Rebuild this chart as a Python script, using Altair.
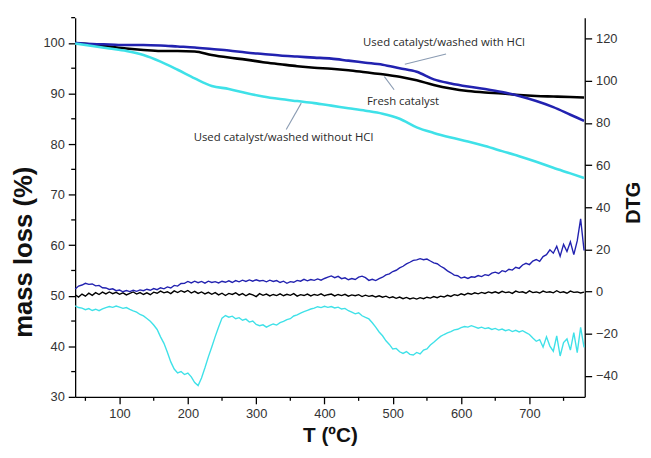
import altair as alt
import pandas as pd

SERIES = ["Fresh catalyst", "Used catalyst/washed with HCl", "Used catalyst/washed without HCl"]
COLORS = ["#000000", "#2222b0", "#3fe1e8"]

# ---- mass loss curves (left axis, %) ----
T_MASS = [35, 60, 85, 110, 135, 160, 185, 210, 235, 260, 285, 310, 335, 360, 385,
          410, 435, 460, 485, 510, 535, 560, 585, 610, 635, 660, 685, 710, 735, 760, 780]
FRESH_MASS = [100.0, 99.7, 99.3, 98.9, 98.6, 98.4, 98.4, 98.3, 97.6, 97.1, 96.7, 96.2, 95.8, 95.4, 95.1,
              94.9, 94.6, 94.2, 93.8, 93.3, 92.6, 91.7, 91.0, 90.5, 90.2, 90.0, 89.7, 89.5, 89.4, 89.3, 89.2]
HCL_MASS = [100.0, 99.8, 99.7, 99.6, 99.6, 99.5, 99.3, 99.1, 98.8, 98.5, 98.1, 97.8, 97.5, 97.3, 97.1,
            96.9, 96.5, 96.1, 95.7, 95.0, 94.3, 92.8, 92.0, 91.4, 90.9, 90.3, 89.5, 88.5, 87.3, 85.8, 84.6]
NOHCL_MASS = [99.9, 99.4, 98.9, 98.4, 97.6, 96.3, 94.7, 93.0, 91.5, 90.9, 90.1, 89.4, 88.9, 88.5, 88.1,
              87.6, 87.1, 86.6, 86.0, 85.0, 83.3, 82.2, 81.3, 80.5, 79.6, 78.6, 77.6, 76.5, 75.3, 74.2, 73.3]

# ---- DTG curves (right axis), T = 35..780 every 5 ----
T_DTG = list(range(35, 781, 5))
FRESH_DTG = [
    -1.5, -2.6, -1.2, -2.2, -0.8, -1.8, -0.5, -1.4, -0.3, -1.1,
    -0.2, -1.0, -0.4, -1.3, -0.6, -1.6, -0.9, -0.2, -1.2, -0.5,
    -1.4, -0.6, -1.5, -0.3, -0.8, 0.2, -0.6, -0.1, -1.0, 0.3,
    -0.5, 0.4, -0.3, 0.5, -0.7, 0.1, -0.9, -0.2, -1.1, -0.4,
    -1.3, -0.5, -1.6, -0.8, -1.9, -0.9, -1.4, -0.6, -1.7, -1.0,
    -2.0, -1.1, -1.6, -2.4, -1.0, -1.8, -1.2, -2.1, -1.4, -1.9,
    -1.1, -2.0, -1.3, -1.8, -1.0, -2.2, -1.5, -1.9, -1.2, -2.1,
    -1.4, -1.8, -1.1, -2.0, -1.5, -1.2, -2.1, -1.4, -1.9, -1.3,
    -2.2, -1.6, -2.0, -1.5, -2.4, -1.7, -2.3, -1.9, -2.6, -2.0,
    -2.7, -2.2, -3.0, -2.5, -3.2, -2.6, -3.4, -2.8, -3.5, -3.0,
    -3.6, -2.9, -3.4, -2.7, -3.1, -2.4, -2.9, -2.2, -2.6, -1.8,
    -2.3, -1.5, -1.9, -1.1, -1.6, -0.8, -1.3, -0.6, -1.1, -0.4,
    -0.9, -0.2, -0.7, -0.1, -0.8, 0.1, -0.5, -0.2, -0.9, 0.2,
    -0.4, -0.1, -0.8, 0.3, -0.5, -0.2, -0.7, 0.2, -0.4, -0.1,
    -0.6, 0.4, -0.5, -0.1, -0.8, 0.2, -0.4, -0.2, -0.7, -0.3,
]
HCL_DTG = [
    1.2, 2.6, 3.1, 3.9, 3.4, 3.6, 2.7, 2.9, 1.8, 1.7,
    1.0, 1.3, 0.4, 0.7, -0.1, 0.5, 0.0, 0.6, 0.1, 0.8,
    0.4, 1.1, 0.6, 1.4, 0.9, 1.8, 1.3, 2.2, 1.7, 2.9,
    2.6, 3.8, 3.9, 4.8, 4.1, 4.9, 4.2, 4.8, 4.0, 4.9,
    4.3, 4.7, 4.1, 4.9, 4.4, 5.1, 4.3, 5.2, 4.6, 5.4,
    4.8, 5.5, 4.9, 5.6, 5.0, 5.3, 4.6, 5.4, 4.8, 5.2,
    4.3, 4.9, 3.9, 4.7, 4.4, 5.3, 4.9, 5.8, 5.1, 5.7,
    5.3, 6.0, 5.4, 6.2, 6.8, 7.4, 6.6, 7.2, 6.1, 6.5,
    5.6, 6.2, 5.7, 6.8, 7.3, 6.6, 5.3, 5.8, 5.2, 6.1,
    6.8, 7.9, 8.4, 9.5, 10.1, 11.2, 12.0, 13.1, 13.9, 14.8,
    15.0, 15.6, 15.1, 15.4, 14.5, 13.6, 13.2, 12.0, 11.1, 9.8,
    8.9, 7.8, 7.5, 6.4, 6.9, 6.2, 7.0, 6.8, 7.6, 7.1,
    8.0, 7.6, 8.7, 9.2, 8.6, 9.9, 9.4, 10.6, 10.2, 11.5,
    11.0, 12.6, 13.4, 12.8, 14.5, 15.2, 14.3, 16.6, 17.5, 19.8,
    18.2, 21.5, 16.8, 22.4, 19.0, 23.6, 17.5, 24.0, 34.5, 19.5,
]
NOHCL_DTG = [
    -6.8, -7.6, -7.9, -8.6, -8.1, -9.0, -8.4, -9.1, -8.2, -7.6,
    -7.1, -7.5, -6.9, -7.4, -8.0, -7.6, -8.5, -9.2, -9.8, -10.9,
    -11.6, -12.8, -14.1, -15.9, -18.0, -21.5, -24.6, -28.8, -33.4, -36.8,
    -38.6, -38.0, -39.4, -38.7, -40.5, -43.2, -44.6, -41.0, -36.2, -31.0,
    -26.3, -21.4, -16.8, -12.6, -11.4, -12.2, -11.7, -12.9, -12.4, -13.6,
    -13.1, -14.5, -14.0, -15.6, -16.2, -15.8, -16.9, -16.1, -15.4, -15.9,
    -14.8, -14.2, -13.3, -12.9, -11.6, -11.1, -10.2, -9.5, -8.9, -8.3,
    -7.9, -7.2, -7.6, -7.0, -7.5, -7.1, -7.8, -7.4, -8.3, -8.0,
    -9.1, -9.8, -10.6, -10.1, -11.5, -12.3, -13.0, -14.8, -16.9, -19.2,
    -21.0, -23.4, -25.1, -27.3, -27.0, -28.6, -29.4, -28.5, -29.8, -30.1,
    -28.9, -29.6, -27.8, -27.2, -25.4, -24.1, -22.6, -21.3, -20.4, -19.6,
    -19.0, -18.2, -17.9, -17.1, -16.6, -16.9, -16.2, -16.8, -17.4, -16.9,
    -17.6, -17.2, -18.0, -17.5, -18.3, -17.8, -18.6, -18.1, -19.0, -18.4,
    -19.2, -18.6, -19.5, -20.4, -22.1, -23.6, -22.8, -26.4, -21.5, -25.9,
    -28.3, -21.0, -30.6, -24.2, -22.5, -27.8, -19.5, -29.0, -17.0, -26.5,
]

# ---- annotations (label text, position in T / mass %) ----
ANN_TEXT = ["Used catalyst/washed with HCl", "Fresh catalyst", "Used catalyst/washed without HCl"]
ANN_T = [575, 515, 340]
ANN_Y = [100.0, 88.3, 81.2]
LEAD_T1 = [517.6, 487.7, 366.0]
LEAD_Y1 = [95.8, 93.35, 88.1]
LEAD_T2 = [578.0, 502.0, 344.0]
LEAD_Y2 = [97.8, 90.75, 82.9]

# ---- axis ticks ----
X_MAJOR = [100, 200, 300, 400, 500, 600, 700]
X_MINOR = [50, 150, 250, 350, 450, 550, 650, 750]
Y_MASS_MAJOR = [30, 40, 50, 60, 70, 80, 90, 100]
Y_MASS_MINOR = [35, 45, 55, 65, 75, 85, 95, 105]
Y_DTG_MAJOR = [-40, -20, 0, 20, 40, 60, 80, 100, 120]

W, H = 516, 384

mass_df = pd.DataFrame({
    "T": T_MASS * 3,
    "value": FRESH_MASS + HCL_MASS + NOHCL_MASS,
    "series": [SERIES[0]] * len(T_MASS) + [SERIES[1]] * len(T_MASS) + [SERIES[2]] * len(T_MASS),
})
dtg_df = pd.DataFrame({
    "T": T_DTG * 3,
    "value": FRESH_DTG + HCL_DTG + NOHCL_DTG,
    "series": [SERIES[0]] * len(T_DTG) + [SERIES[1]] * len(T_DTG) + [SERIES[2]] * len(T_DTG),
})
ann_df = pd.DataFrame({"text": ANN_TEXT, "T": ANN_T, "y": ANN_Y})
lead_df = pd.DataFrame({"t1": LEAD_T1, "y1": LEAD_Y1, "t2": LEAD_T2, "y2": LEAD_Y2})
xminor_df = pd.DataFrame({"t": X_MINOR})
yminor_df = pd.DataFrame({"v": Y_MASS_MINOR})

xscale = alt.Scale(domain=[35, 781], nice=False, zero=False)
ymass_scale = alt.Scale(domain=[30, 105], nice=False, zero=False)
ydtg_scale = alt.Scale(domain=[-50, 130], nice=False, zero=False)
color_scale = alt.Scale(domain=SERIES, range=COLORS)

x_axis = alt.Axis(title="T (ºC)", values=X_MAJOR, tickSize=7, labelPadding=4,
                  titleFontSize=21, titleX=W / 2, titleY=39, titleAlign="center",
                  titleBaseline="middle", titleAnchor="middle")
left_axis = alt.Axis(title="mass loss (%)", values=Y_MASS_MAJOR, tickSize=7, labelPadding=4,
                     titleFontSize=26, titleX=-52, titleY=237, titleAngle=270,
                     titleAlign="center", titleBaseline="middle")
right_axis = alt.Axis(title="DTG", orient="right", values=Y_DTG_MAJOR, tickSize=7, labelPadding=4,
                      titleFontSize=20, titleX=49, titleY=187, titleAngle=270,
                      titleAlign="center", titleBaseline="middle")

X = alt.X("T:Q", scale=xscale, axis=x_axis)
color = alt.Color("series:N", scale=color_scale, legend=None)

mass_lines = alt.Chart(mass_df).mark_line(strokeWidth=2.6, interpolate="monotone").encode(
    x=X, y=alt.Y("value:Q", scale=ymass_scale, axis=left_axis), color=color,
    order=alt.Order("T:Q"))

leaders = alt.Chart(lead_df).mark_rule(color="#8a9bb2", strokeWidth=1.1).encode(
    x=alt.X("t1:Q", scale=xscale, axis=x_axis), x2="t2:Q",
    y=alt.Y("y1:Q", scale=ymass_scale, axis=left_axis), y2="y2:Q")

labels = alt.Chart(ann_df).mark_text(font="Open Sans", fontSize=11.5, color="#2a2a2a").encode(
    x=alt.X("T:Q", scale=xscale, axis=x_axis),
    y=alt.Y("y:Q", scale=ymass_scale, axis=left_axis), text="text:N")

y_minor = alt.Chart(yminor_df).mark_rule(color="black", strokeWidth=1.3).encode(
    y=alt.Y("v:Q", scale=ymass_scale, axis=left_axis), x=alt.value(-4), x2=alt.value(0))

x_minor = alt.Chart(xminor_df).mark_rule(color="black", strokeWidth=1.3).encode(
    x=alt.X("t:Q", scale=xscale, axis=x_axis), y=alt.value(H), y2=alt.value(H + 4))

mass_group = alt.layer(mass_lines, leaders, labels, y_minor, x_minor)

dtg_lines = alt.Chart(dtg_df).mark_line(strokeWidth=1.4).encode(
    x=X, y=alt.Y("value:Q", scale=ydtg_scale, axis=right_axis), color=color,
    order=alt.Order("T:Q"))

chart = alt.layer(mass_group, dtg_lines).resolve_scale(y="independent").properties(
    width=W, height=H,
    autosize=alt.AutoSizeParams(type="none"),
    padding={"left": 68, "top": 7, "right": 59, "bottom": 50},
).configure_view(stroke=None).configure_axis(
    grid=False, domainColor="black", domainWidth=1.3, tickColor="black", tickWidth=1.3,
    labelFont="Liberation Sans", labelFontSize=13, labelColor="#333333",
    titleFont="Liberation Sans", titleFontWeight="bold", titleColor="#111111",
)

chart.save("out.html", embed_options={"renderer": "svg", "actions": False})
